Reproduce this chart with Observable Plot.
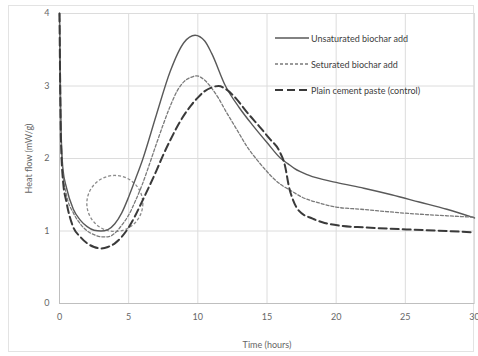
<!DOCTYPE html>
<html>
<head>
<meta charset="utf-8">
<script src="https://cdn.jsdelivr.net/npm/d3@7"></script>
<script src="https://cdn.jsdelivr.net/npm/@observablehq/plot@0.6"></script>
<style>
  html, body { margin: 0; padding: 0; background: #fff; }
  #wrap { position: relative; width: 478px; height: 356px; overflow: hidden; font-family: Lato, "Open Sans", sans-serif; }
  #border { position: absolute; left: 8px; top: 5px; width: 466px; height: 347px; border: 1px solid #e3e3e3; box-sizing: border-box; }
  #chart { position: absolute; left: 0; top: 0; }
  #legend { position: absolute; left: 275px; top: 30px; font-size: 9px; color: #404040; }
  .row { display: flex; align-items: center; height: 16px; margin-bottom: 10px; }
  .row svg { margin-right: 2px; }
</style>
</head>
<body>
<div id="wrap">
  <div id="border"></div>
  <div id="chart"></div>
  <div id="legend"></div>
</div>
<script>
// Series names
const seriesNames = ["Unsaturated biochar add", "Saturated biochar add", "Plain cement paste (control)"];
const legendLabels = ["Unsaturated biochar add", "Seturated biochar add", "Plain cement paste (control)"];

// Unsaturated biochar addition (solid)
const unsatTime = [0, 0.1, 0.25, 0.5, 1, 1.5, 2, 2.5, 3, 3.5, 4, 4.5, 5, 5.5, 6, 7, 8, 9, 9.8, 10.5, 11, 12, 13, 14, 15, 16, 16.5, 17, 18, 20, 22, 24, 26, 28, 30];
const unsatFlow = [4.0, 2.5, 1.85, 1.6, 1.3, 1.15, 1.06, 1.01, 1.0, 1.02, 1.1, 1.25, 1.47, 1.72, 1.98, 2.6, 3.2, 3.6, 3.7, 3.62, 3.45, 3.0, 2.7, 2.45, 2.22, 2.0, 1.93, 1.86, 1.77, 1.67, 1.59, 1.5, 1.4, 1.3, 1.18];

// Saturated biochar addition (short dash)
const satTime = [0, 0.1, 0.25, 0.5, 1, 1.5, 2, 2.5, 3, 3.5, 4, 4.5, 5, 5.5, 6, 6.5, 7, 7.5, 8, 8.5, 9, 9.5, 9.9, 10.5, 11, 11.5, 12, 12.5, 13, 13.5, 14.2, 15, 15.5, 16, 16.7, 17.5, 18.9, 20, 21.8, 23.5, 25.4, 28, 30];
const satFlow = [4.0, 2.4, 1.8, 1.5, 1.25, 1.1, 1.0, 0.95, 0.92, 0.92, 0.97, 1.08, 1.22, 1.42, 1.65, 1.92, 2.2, 2.47, 2.72, 2.93, 3.06, 3.12, 3.14, 3.08, 2.97, 2.83, 2.66, 2.5, 2.34, 2.18, 2.0, 1.82, 1.72, 1.64, 1.56, 1.47, 1.38, 1.33, 1.3, 1.27, 1.24, 1.21, 1.19];

// Plain cement paste, control (long dash)
const ctrlTime = [0, 0.1, 0.25, 0.5, 1, 1.5, 2, 2.5, 3, 3.5, 4, 4.5, 5, 5.5, 6, 6.5, 7, 7.5, 8, 8.75, 9.5, 10, 10.5, 11, 11.5, 12, 12.8, 13.5, 14.5, 15.2, 15.9, 16.3, 16.6, 16.9, 17.3, 18.3, 19, 20.4, 22, 25.3, 28, 30];
const ctrlFlow = [4.0, 2.3, 1.7, 1.4, 1.05, 0.92, 0.83, 0.78, 0.76, 0.78, 0.83, 0.92, 1.05, 1.22, 1.42, 1.62, 1.83, 2.05, 2.25, 2.52, 2.73, 2.84, 2.93, 2.98, 3.0, 2.96, 2.82, 2.65, 2.43, 2.27, 2.1, 1.9, 1.6, 1.42, 1.28, 1.17, 1.12, 1.07, 1.05, 1.02, 1.0, 0.98];

// Annotation circle (time, heat flow of its centre)
const circleCentre = [{t: 4.0, q: 1.38}];

const xTicks = [0, 5, 10, 15, 20, 25, 30];
const yTicks = [0, 1, 2, 3, 4];

const styles = [
  {stroke: "#595959", strokeWidth: 1.4, dash: null},
  {stroke: "#7a7a7a", strokeWidth: 1.3, dash: "3,2"},
  {stroke: "#3a3a3a", strokeWidth: 2, dash: "8,4"}
];

const toRows = (ts, qs, s) => ts.map((t, i) => ({t, q: qs[i], s}));
const data = [
  toRows(unsatTime, unsatFlow, seriesNames[0]),
  toRows(satTime, satFlow, seriesNames[1]),
  toRows(ctrlTime, ctrlFlow, seriesNames[2])
];

const chart = Plot.plot({
  width: 478,
  height: 356,
  marginLeft: 59,
  marginRight: 4,
  marginTop: 13,
  marginBottom: 53,
  style: {fontFamily: "Lato, 'Open Sans', sans-serif", fontSize: "9px", color: "#666", background: "transparent"},
  x: {domain: [0, 30], ticks: xTicks, tickFormat: d3.format("d"), tickSize: 0, tickPadding: 10, label: "Time (hours)", labelAnchor: "center", labelOffset: 44, labelArrow: "none"},
  y: {domain: [0, 4], ticks: yTicks, tickFormat: d3.format("d"), tickSize: 0, tickPadding: 10, label: "Heat flow (mW/g)", labelAnchor: "center", labelOffset: 34, labelArrow: "none"},
  marks: [
    Plot.gridX(xTicks.slice(1, -1), {stroke: "#dcdcdc", strokeOpacity: 1}),
    Plot.gridY(yTicks.slice(1, -1), {stroke: "#dcdcdc", strokeOpacity: 1}),
    Plot.frame({stroke: "#dcdcdc"}),
    Plot.ruleX([0], {stroke: "#bfbfbf"}),
    Plot.ruleY([0], {stroke: "#bfbfbf"}),
    Plot.dot(circleCentre, {x: "t", y: "q", r: 28, stroke: "#8a8a8a", strokeWidth: 1.3, strokeDasharray: "3,2", fill: "none"}),
    ...data.map((rows, i) => Plot.line(rows, {
      x: "t", y: "q", curve: "monotone-x",
      stroke: styles[i].stroke, strokeWidth: styles[i].strokeWidth,
      strokeDasharray: styles[i].dash
    }))
  ]
});
document.getElementById("chart").appendChild(chart);

// legend
const legend = d3.select("#legend");
legendLabels.forEach((lab, i) => {
  const row = legend.append("div").attr("class", "row");
  const svg = row.append("svg").attr("width", 34).attr("height", 8);
  svg.append("line").attr("x1", 0).attr("x2", 34).attr("y1", 4).attr("y2", 4)
    .attr("stroke", styles[i].stroke).attr("stroke-width", styles[i].strokeWidth)
    .attr("stroke-dasharray", styles[i].dash);
  row.append("span").text(lab);
});
</script>
</body>
</html>
